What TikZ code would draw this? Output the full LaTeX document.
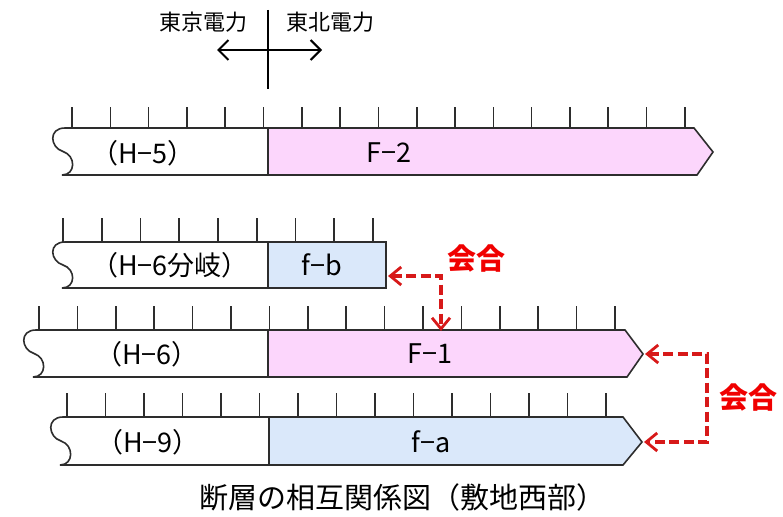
\documentclass[tikz,border=0pt]{standalone}
\usepackage{fontspec}
\setmainfont{Noto Sans CJK JP}
\usetikzlibrary{arrows.meta}
\definecolor{pinkF}{RGB}{252,214,252}
\definecolor{blueF}{RGB}{218,232,250}
\definecolor{edge}{RGB}{45,45,45}
\definecolor{redA}{RGB}{215,25,25}
\definecolor{redT}{RGB}{240,0,0}
\tikzset{
  barline/.style={draw=edge, line width=1.6pt},
  tickline/.style={draw=edge, line width=1.6pt},
  lbl/.style={font=\fontsize{27}{27}\selectfont, inner sep=0pt, text=black},
  toplbl/.style={font=\fontsize{22}{22}\selectfont, inner sep=0pt, text=black},
  redarr/.style={draw=redA, line width=3.2pt, dash pattern=on 10pt off 4.5pt,
     {Straight Barb[length=11pt,width=18pt,line width=2.8pt]}-{Straight Barb[length=11pt,width=18pt,line width=2.8pt]}},
  redlbl/.style={font=\fontsize{29}{29}\selectfont\bfseries, inner sep=0pt, text=redT},
}
\newcommand{\wavyedge}[3]{% x0, top, bot
  (#1+3,#2) .. controls (#1-14,#2) and (#1-12,{(#2+#3)/2-4}) .. (#1+1,{(#2+#3)/2})
  .. controls (#1+14,{(#2+#3)/2+4}) and (#1+14,#3) .. (#1,#3)}
\begin{document}
\begin{tikzpicture}[x=1pt,y=-1pt]
\useasboundingbox (0,0) rectangle (783,516);
% top divider
\coordinate (vtop) at (268,10);
\coordinate (vbot) at (268,89);
\draw[line width=2pt] (vtop) -- (vbot);
\coordinate (aL) at (217,50);
\coordinate (aR) at (322,50);
\draw[line width=2pt, {Straight Barb[length=10pt,width=20pt,line width=2pt]}-{Straight Barb[length=10pt,width=20pt,line width=2pt]}] (aL) -- (aR);
\node[toplbl] (tepco) at (203,22) {東京電力};
\node[toplbl] (tohoku) at (330,22) {東北電力};

% Row 1: H-5 / F-2
\foreach \k in {0,...,16} \draw[tickline] ({72+38.3*\k},107) -- ({72+38.3*\k},128);
\filldraw[barline, fill=pinkF] (268,128) -- (694,128) -- (713,152) -- (697,175) -- (268,175) -- cycle;
\filldraw[barline, fill=white] (62,175) -- (268,175) -- (268,128) -- \wavyedge{62}{128}{175} -- cycle;
\node[lbl] (h5) at (143,153) {（H−5）};
\node[lbl] (f2) at (389,153) {F−2};

% Row 2: H-6 branch / f-b
\foreach \k in {0,...,8} \draw[tickline] ({63+38.75*\k},218) -- ({63+38.75*\k},242);
\filldraw[barline, fill=blueF] (268,242) rectangle (386,288);
\filldraw[barline, fill=white] (62,288) -- (268,288) -- (268,242) -- \wavyedge{62}{242}{288} -- cycle;
\node[lbl] (h6b) at (170,265) {（H−6分岐）};
\node[lbl] (fb) at (322,265) {f−b};

% Row 3: H-6 / F-1
\foreach \k in {0,...,15} \draw[tickline] ({39+38.4*\k},306) -- ({39+38.4*\k},330);
\filldraw[barline, fill=pinkF] (268,330) -- (625,330) -- (643,354) -- (627,377) -- (268,377) -- cycle;
\filldraw[barline, fill=white] (33,377) -- (268,377) -- (268,330) -- \wavyedge{33}{330}{377} -- cycle;
\node[lbl] (h6) at (147,354) {（H−6）};
\node[lbl] (f1) at (430,354) {F−1};

% Row 4: H-9 / f-a
\foreach \k in {0,...,14} \draw[tickline] ({67+38.5*\k},393) -- ({67+38.5*\k},417);
\filldraw[barline, fill=blueF] (269,417) -- (623,417) -- (642,442) -- (623,465) -- (269,465) -- cycle;
\filldraw[barline, fill=white] (60,465) -- (269,465) -- (269,417) -- \wavyedge{60}{417}{465} -- cycle;
\node[lbl] (h9) at (148,442) {（H−9）};
\node[lbl] (fa) at (431,442) {f−a};

% junction arrows
\coordinate (fbR) at (388,276);
\coordinate (f1T) at (441,331);
\draw[redarr] (fbR) -| (f1T);
\node[redlbl] (kai1) at (476,259) {会合};
\coordinate (f1tip) at (645,354);
\coordinate (fatip) at (644,442);
\coordinate (rj1) at (707,354);
\coordinate (rj2) at (707,442);
\draw[redarr] (f1tip) -- (rj1) -- (rj2) -- (fatip);
\node[redlbl] (kai2) at (748,398) {会合};

% title
\node[lbl, font=\fontsize{29}{29}\selectfont] (title) at (402,497) {断層の相互関係図（敷地西部）};
\end{tikzpicture}
\end{document}
